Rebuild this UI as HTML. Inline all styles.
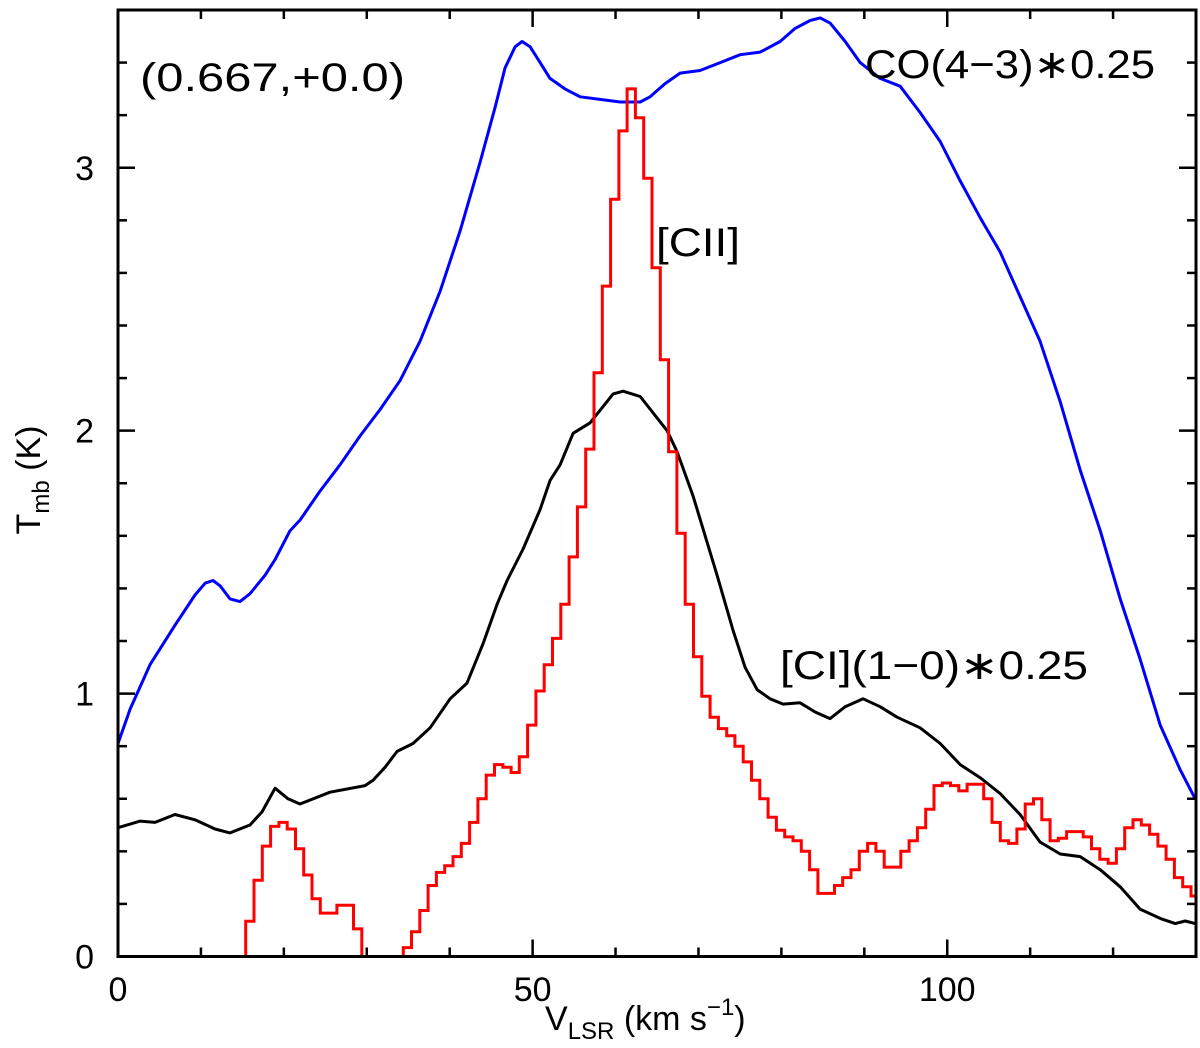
<!DOCTYPE html>
<html><head><meta charset="utf-8"><style>
html,body{margin:0;padding:0;background:#fff;}
svg{display:block;font-family:"Liberation Sans","DejaVu Sans",sans-serif;}
</style></head><body>
<svg id="chart" width="1200" height="1048" viewBox="0 0 1200 1048" xmlns="http://www.w3.org/2000/svg">
<defs><clipPath id="plotclip"><rect x="118" y="10" width="1078" height="947"/></clipPath></defs>
<g id="marks" clip-path="url(#plotclip)"></g>
<g id="axes"></g>
<text x="140" y="91" font-size="40" textLength="265" lengthAdjust="spacingAndGlyphs">(0.667,+0.0)</text>
<text x="865" y="78" font-size="40" textLength="290" lengthAdjust="spacingAndGlyphs">CO(4−3)∗0.25</text>
<text x="656" y="256" font-size="40" textLength="84" lengthAdjust="spacingAndGlyphs">[CII]</text>
<text x="780" y="679" font-size="40" textLength="308" lengthAdjust="spacingAndGlyphs">[CI](1−0)∗0.25</text>
<text transform="translate(40,480) rotate(-90)" font-size="34" text-anchor="middle">T<tspan font-size="24" dy="9">mb</tspan><tspan dy="-9"> (K)</tspan></text>
<text x="545" y="1030" font-size="34">V<tspan font-size="24" dy="9">LSR</tspan><tspan dy="-9"> (km s</tspan><tspan font-size="24" dy="-15">−1</tspan><tspan dy="15">)</tspan></text>
</svg>
<script>
const xTicksMajor = [0, 50, 100];
const yTicksMajor = [0, 1, 2, 3];
const blueV = [0,1.45,3.86,6.87,9.28,10.5,11.46,12.31,13.51,14.71,15.92,17.73,18.94,20.75,21.95,24.36,26.77,29.19,31.6,34.01,36.42,38.84,41.25,43.66,45.47,46.68,47.89,48.73,49.7,50.9,52.1,53.91,55.73,58.14,60.55,62.97,64.17,65.98,67.79,70.2,72.62,75.03,77.44,79.85,81.65,83.46,84.68,85.88,87.69,89.5,91.9,94.32,96.73,99.15,101.56,103.97,106.38,108.79,111.2,113.62,116.03,118.45,120.86,123.27,125.68,128.1,129.9];
const blueT = [0.81,0.94,1.11,1.26,1.375,1.42,1.43,1.41,1.36,1.35,1.38,1.45,1.51,1.62,1.66,1.77,1.87,1.98,2.08,2.19,2.34,2.53,2.76,3.02,3.23,3.38,3.46,3.48,3.46,3.40,3.34,3.30,3.27,3.26,3.25,3.25,3.27,3.32,3.36,3.37,3.40,3.43,3.44,3.48,3.53,3.56,3.57,3.55,3.48,3.40,3.34,3.31,3.21,3.10,2.95,2.81,2.68,2.51,2.34,2.11,1.85,1.62,1.36,1.13,0.88,0.71,0.60];
const blackV = [0,2.66,4.46,6.87,9.28,11.7,13.51,15.92,17.37,18.94,20.5,21.95,25.57,29.8,30.75,32.21,33.66,35.58,37.64,40.05,42.09,44.03,45.72,46.92,48.85,50.9,52.1,53.31,54.88,56.93,59.71,60.91,62.97,66.22,67.42,69.36,72.25,74.18,75.63,77.07,78.64,80.21,82.26,84.07,85.88,87.69,89.86,91.9,93.96,96.73,99.15,101.56,103.97,106.38,108.79,111.2,113.62,116.03,118.45,120.86,123.27,125.68,127.49,128.7,129.9];
const blackT = [0.49,0.515,0.51,0.54,0.52,0.485,0.47,0.50,0.55,0.64,0.60,0.58,0.625,0.65,0.67,0.72,0.78,0.81,0.87,0.98,1.04,1.19,1.34,1.43,1.55,1.70,1.81,1.87,1.99,2.03,2.14,2.15,2.13,2.00,1.92,1.75,1.45,1.24,1.10,1.015,0.98,0.96,0.965,0.93,0.905,0.95,0.98,0.95,0.91,0.87,0.81,0.73,0.68,0.62,0.54,0.435,0.39,0.38,0.33,0.265,0.18,0.145,0.125,0.135,0.125];
const ciiStart = 15.4;
const ciiWidth = 1.0;
const ciiT = [0.134,0.29,0.42,0.495,0.51,0.485,0.41,0.31,0.22,0.165,0.165,0.195,0.195,0.105,
-0.2,-0.2,-0.2,-0.2,-0.2,
0.034,0.094,0.175,0.27,0.32,0.345,0.38,0.43,0.51,0.60,0.69,0.73,0.72,0.70,0.76,0.88,1.01,1.11,1.21,1.34,
1.52,1.71,1.93,2.22,2.55,2.88,3.14,3.3,3.19,2.96,2.62,2.27,1.92,1.61,1.34,1.14,0.99,
0.91,0.867,0.84,0.80,0.74,0.67,0.60,0.53,0.48,0.455,0.44,0.40,0.33,0.24,0.24,0.27,0.30,0.33,0.40,0.43,0.40,0.34,0.34,0.40,0.44,0.49,0.56,0.65,0.66,0.65,0.63,0.655,0.655,0.60,0.51,0.44,0.43,0.485,0.58,0.60,0.52,0.44,0.45,0.475,0.475,0.455,0.41,0.37,0.355,0.41,0.49,0.52,0.50,0.465,0.42,0.37,0.30,0.265,0.23];

const X0=118, X1=1196, Y0=956.5, Y1=10, XMAX=130, YMAX=3.6;
function sx(v){return X0+(v/XMAX)*(X1-X0);}
function sy(t){return Y0-(t/YMAX)*(Y0-Y1);}
const NS="http://www.w3.org/2000/svg";
const marks=document.getElementById('marks');
const axes=document.getElementById('axes');
function mk(tag,attrs,parent){const e=document.createElementNS(NS,tag);for(const k in attrs)e.setAttribute(k,attrs[k]);parent.appendChild(e);return e;}

let d='';
blueV.forEach((v,i)=>{d+=(i?'L':'M')+sx(v).toFixed(1)+','+sy(blueT[i]).toFixed(1);});
const blue=mk('path',{d:d,fill:'none',stroke:'#0000ff','stroke-width':3,'stroke-linejoin':'round'},marks);



d='';
blackV.forEach((v,i)=>{d+=(i?'L':'M')+sx(v).toFixed(1)+','+sy(blackT[i]).toFixed(1);});
const black=mk('path',{d:d,fill:'none',stroke:'#000','stroke-width':3,'stroke-linejoin':'round'},marks);



d='M'+sx(ciiStart).toFixed(1)+','+sy(-0.5).toFixed(1);
ciiT.forEach((t,i)=>{const a=ciiStart+i*ciiWidth,b=a+ciiWidth;d+='L'+sx(a).toFixed(1)+','+sy(t).toFixed(1)+'L'+sx(b).toFixed(1)+','+sy(t).toFixed(1);});
const red=mk('path',{d:d,fill:'none',stroke:'#ff0000','stroke-width':3,'stroke-linejoin':'miter'},marks);



const frame=mk('rect',{x:X0,y:Y1,width:X1-X0,height:Y0-Y1,fill:'none',stroke:'#000','stroke-width':3},axes);



for(let v=0;v<=XMAX;v+=10){
  const major=v%50===0, L=major?17:9, x=sx(v);
  const tb=mk('line',{x1:x,y1:Y0,x2:x,y2:Y0-L,stroke:'#000','stroke-width':2.5},axes);
  
  
  const tt=mk('line',{x1:x,y1:Y1,x2:x,y2:Y1+L,stroke:'#000','stroke-width':2.5},axes);
  
  
}
xTicksMajor.forEach(v=>{
  const t=mk('text',{x:sx(v),y:1001,'font-size':34,'text-anchor':'middle'},axes);
  t.textContent=String(v);
  
  
});
for(let k=0;k<=18;k++){
  const t=k*0.2, major=k%5===0, L=major?17:9, y=sy(t);
  const tl=mk('line',{x1:X0,y1:y,x2:X0+L,y2:y,stroke:'#000','stroke-width':2.5},axes);
  
  
  const tr=mk('line',{x1:X1,y1:y,x2:X1-L,y2:y,stroke:'#000','stroke-width':2.5},axes);
  
  
}
yTicksMajor.forEach(t=>{
  const e=mk('text',{x:94,y:sy(t)+12,'font-size':34,'text-anchor':'end'},axes);
  e.textContent=String(t);
  
  
});
</script>
</body></html>
